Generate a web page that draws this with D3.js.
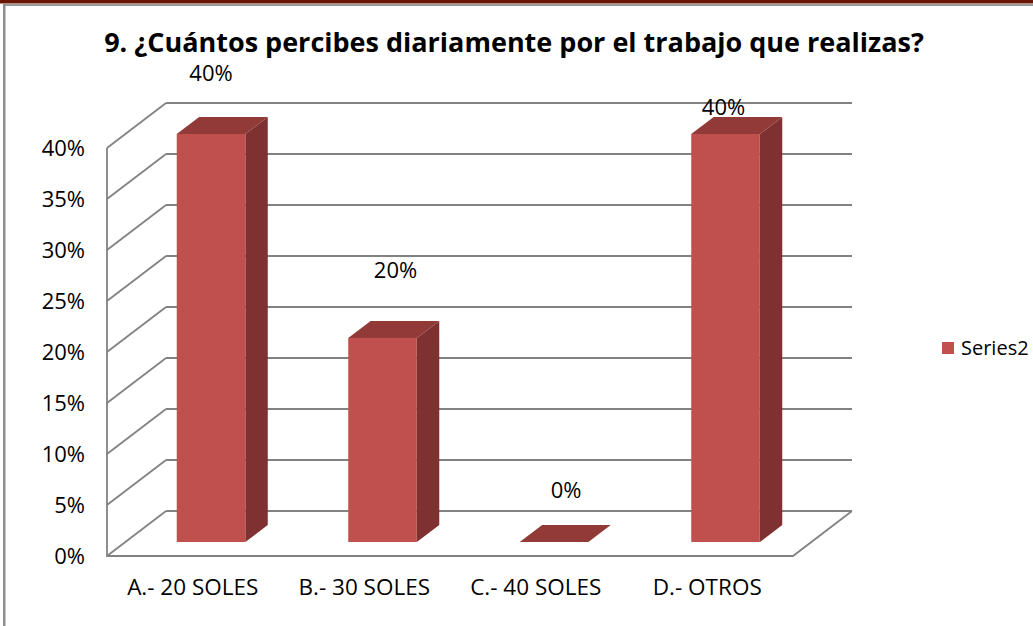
<!DOCTYPE html>
<html>
<head>
<meta charset="utf-8">
<script src="https://cdn.jsdelivr.net/npm/d3@7"></script>
<style>
  body { margin: 0; background: #fff; }
  svg { display: block; }
  text { font-family: "Open Sans", "Noto Sans", sans-serif; fill: #000; }
  .grid { stroke: #828282; stroke-width: 1.8; fill: none; }
</style>
</head>
<body>
<svg id="chart"></svg>
<script>
// data
var categories = ["A.- 20 SOLES", "B.- 30 SOLES", "C.- 40 SOLES", "D.- OTROS"];
var values = [0.40, 0.20, 0.00, 0.40];
var seriesName = "Series2";
var yTicks = [0, 0.05, 0.10, 0.15, 0.20, 0.25, 0.30, 0.35, 0.40];
var title = "9. ¿Cuántos percibes diariamente por el trabajo que realizas?";

// layout
var W = 1033, H = 626;
var depthX = 59, depthY = 45;          // full depth of the 3d box
var barDepth = [0.31, 0.69];           // bar sits between these depth fractions
var labelOffsets = [[0, -61], [13, -68], [12, -52], [-2, -27]];   // excel put them oddly
var colors = { front: "#c0504d", side: "#7e3130", top: "#913a37" };

var svg = d3.select("#chart").attr("width", W).attr("height", H);

// page frame
svg.append("rect").attr("x", 0).attr("y", 0).attr("width", W).attr("height", 3.5).attr("fill", "#6b1505");
svg.append("rect").attr("x", 3).attr("y", 4).attr("width", W - 3).attr("height", 2).attr("fill", "#9a9a9a");
svg.append("rect").attr("x", 3).attr("y", 4).attr("width", 2.5).attr("height", H - 4).attr("fill", "#8e8e8e");

var x = d3.scaleBand().domain(categories).range([107, 793]).paddingInner(0.6).paddingOuter(0.3);
var y = d3.scaleLinear().domain([0, 0.4]).range([556, 148]);

function proj(px, py, d) { return [px + d * depthX, py - d * depthY]; }
var line = d3.line();

var g = svg.append("g");

// back wall gridlines
g.selectAll(".back").data(yTicks).enter().append("path")
    .attr("class", "grid")
    .attr("d", function (t) {
        return line([proj(x.range()[0], y(t), 1), proj(x.range()[1], y(t), 1)]);
    });
// side wall gridlines
g.selectAll(".side").data(yTicks).enter().append("path")
    .attr("class", "grid")
    .attr("d", function (t) {
        return line([proj(x.range()[0], y(t), 0), proj(x.range()[0], y(t), 1)]);
    });
// front left edge + floor
g.append("path").attr("class", "grid")
    .attr("d", line([[x.range()[0], y(0.4)], [x.range()[0], y(0)], [x.range()[1], y(0)], proj(x.range()[1], y(0), 1)]));

// bars
var bars = g.selectAll(".bar").data(values).enter().append("g").attr("class", "bar");
function barPts(d, i) {
    var x0 = x(categories[i]), x1 = x0 + x.bandwidth();
    var d0 = barDepth[0], d1 = barDepth[1];
    return {
        fbl: proj(x0, y(0), d0), fbr: proj(x1, y(0), d0),
        ftl: proj(x0, y(d), d0), ftr: proj(x1, y(d), d0),
        bbr: proj(x1, y(0), d1), btl: proj(x0, y(d), d1), btr: proj(x1, y(d), d1)
    };
}
bars.append("path")
    .attr("fill", colors.side)
    .attr("d", function (d, i) { var p = barPts(d, i); return line([p.fbr, p.bbr, p.btr, p.ftr]) + "Z"; });
bars.append("path")
    .attr("fill", colors.top)
    .attr("d", function (d, i) { var p = barPts(d, i); return line([p.ftl, p.ftr, p.btr, p.btl]) + "Z"; });
bars.append("path")
    .attr("fill", colors.front)
    .attr("d", function (d, i) { var p = barPts(d, i); return line([p.fbl, p.fbr, p.ftr, p.ftl]) + "Z"; });

// data labels
g.selectAll(".dlabel").data(values).enter().append("text")
    .attr("text-anchor", "middle")
    .attr("font-size", 22)
    .attr("x", function (d, i) { var p = barPts(d, i); return (p.ftl[0] + p.ftr[0]) / 2 + labelOffsets[i][0]; })
    .attr("y", function (d, i) { var p = barPts(d, i); return p.ftl[1] + labelOffsets[i][1]; })
    .attr("dy", "0.35em")
    .text(function (d) { return d3.format(".0%")(d); });

// y axis labels
var yAxis = d3.axisLeft(y).tickValues(yTicks).tickFormat(d3.format(".0%")).tickSize(0).tickPadding(22);
var ya = g.append("g").attr("transform", "translate(" + x.range()[0] + ",0)").call(yAxis);
ya.select(".domain").remove();
ya.selectAll("text").attr("font-size", 22).attr("font-family", null).attr("fill", "#000");

// x axis labels
var xAxis = d3.axisBottom(x).tickSize(0).tickPadding(23);
var xa = g.append("g").attr("transform", "translate(0," + y(0) + ")").call(xAxis);
xa.select(".domain").remove();
xa.selectAll("text").attr("font-size", 22.5).attr("font-family", null).attr("fill", "#000");

// title
svg.append("text")
    .attr("x", 514).attr("y", 52)
    .attr("text-anchor", "middle")
    .attr("font-size", 27).attr("font-weight", "bold")
    .text(title);

// legend
var legend = svg.append("g").attr("transform", "translate(942,342)");
legend.append("rect").attr("width", 12).attr("height", 12).attr("fill", colors.front);
legend.append("text").attr("x", 19).attr("y", 6).attr("dy", "0.35em").attr("font-size", 20).text(seriesName);
</script>
</body>
</html>
